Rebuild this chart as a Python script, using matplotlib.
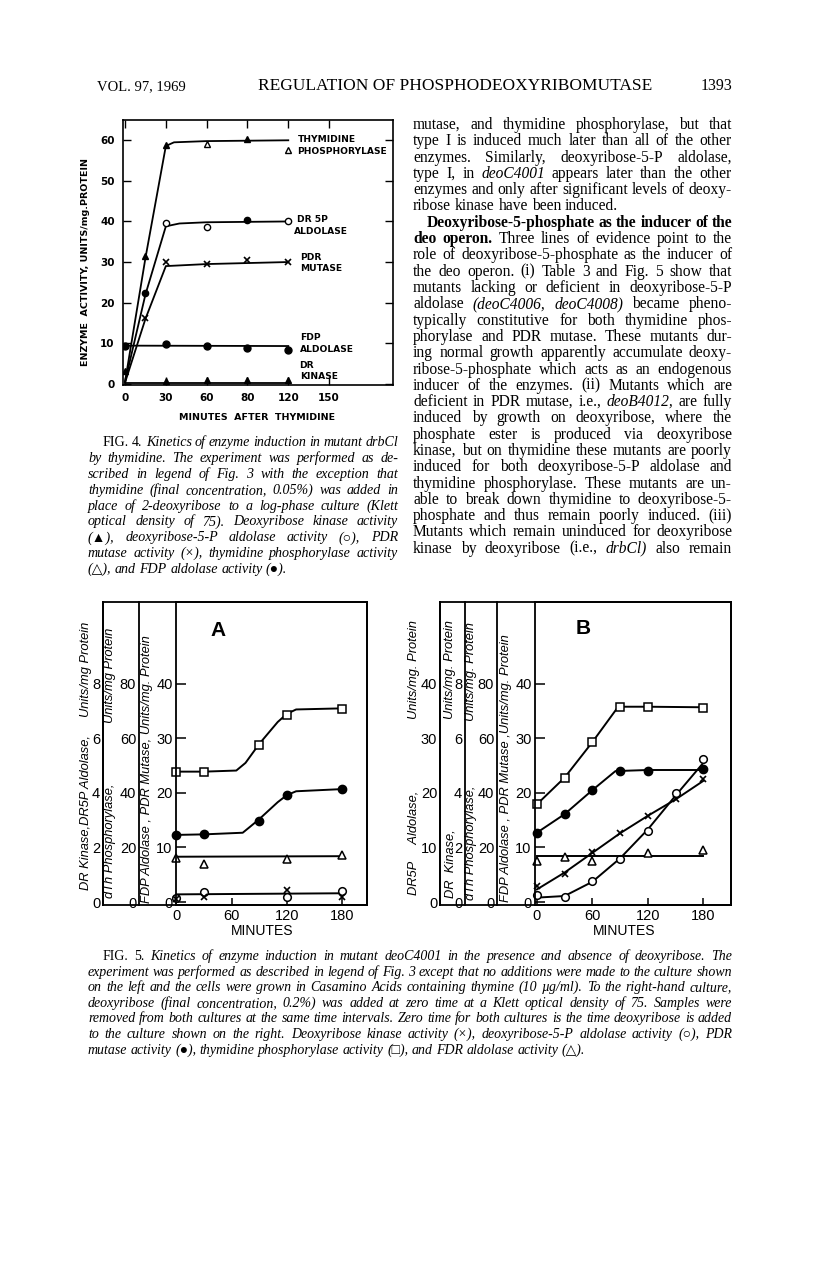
import matplotlib.pyplot as plt

W, H = 816, 1262

# ---------------- Fig. 4 data (minutes after thymidine, units/mg protein)
f4_ticks = [0, 30, 60, 90, 120, 150]
f4_ticklabels = ['0', '30', '60', '80', '120', '150']
f4_yticks = [0, 10, 20, 30, 40, 50, 60]

tp_line_x = [0, 15, 30, 36, 60, 120]
tp_line_y = [0.5, 31.0, 58.6, 59.5, 59.8, 60.0]
tp_fill_x = [15, 30, 90]
tp_fill_y = [31.5, 58.8, 60.2]
tp_open_x = [60, 120]
tp_open_y = [59.2, 57.7]

ald_line_x = [0, 15, 30, 40, 60, 120]
ald_line_y = [0.5, 22.0, 38.8, 39.5, 39.8, 40.0]
ald_open_x = [30, 60, 120]
ald_open_y = [39.5, 38.6, 40.1]
ald_fill_x = [15, 90]
ald_fill_y = [22.3, 40.3]

mut_line_x = [0, 15, 30, 60, 120]
mut_line_y = [0.3, 16.0, 29.0, 29.5, 30.0]
mut_x = [15, 30, 60, 90, 120]
mut_y = [16.2, 30.0, 29.6, 30.4, 30.0]

fdp_line_x = [0, 120]
fdp_line_y = [9.4, 9.3]
fdp_x = [0, 30, 60, 90, 120]
fdp_y = [9.3, 9.8, 9.3, 8.9, 8.4]

kin_line_x = [0, 120]
kin_line_y = [0.3, 0.3]
kin_x = [0, 30, 60, 90, 120]
kin_y = [3.2, 0.8, 0.9, 0.9, 1.0]

# ---------------- Fig. 5 data (plotted on the 0-40 FDP/PDR scale)
f5_xticks = [0, 60, 120, 180]
f5_yticks = [0, 10, 20, 30, 40]
dth_ticks = [0, 20, 40, 60, 80]
kin_ticks = [0, 2, 4, 6, 8]
dr5p_ticks = [0, 10, 20, 30, 40]

# panel A
a_sq_line_x = [0, 30, 65, 75, 90, 110, 120, 130, 180]
a_sq_line_y = [23.9, 23.9, 24.1, 25.5, 29.0, 33.0, 34.5, 35.3, 35.5]
a_sq_x = [0, 30, 90, 120, 180]
a_sq_y = [23.9, 23.9, 28.8, 34.2, 35.4]
a_dot_line_x = [0, 30, 72, 80, 90, 110, 120, 130, 180]
a_dot_line_y = [12.3, 12.4, 12.7, 13.8, 15.2, 18.3, 19.6, 20.3, 20.7]
a_dot_x = [0, 30, 90, 120, 180]
a_dot_y = [12.2, 12.4, 14.9, 19.6, 20.7]
a_tri_line_x = [0, 180]
a_tri_line_y = [8.3, 8.4]
a_tri_x = [0, 30, 120, 180]
a_tri_y = [8.1, 6.9, 7.9, 8.6]
a_low_line_x = [0, 180]
a_low_line_y = [1.4, 1.6]
a_circ_x = [0, 30, 120, 180]
a_circ_y = [0.8, 1.9, 0.9, 2.1]
a_cross_x = [0, 30, 120, 180]
a_cross_y = [0.5, 0.9, 2.2, 1.0]

# panel B
b_sq_line_x = [0, 30, 60, 88, 120, 180]
b_sq_line_y = [17.9, 22.8, 29.3, 35.8, 35.8, 35.7]
b_sq_x = [0, 30, 60, 90, 120, 180]
b_sq_y = [17.9, 22.8, 29.3, 35.8, 35.7, 35.5]
b_dot_line_x = [0, 30, 60, 85, 120, 180]
b_dot_line_y = [12.7, 16.1, 20.5, 24.0, 24.2, 24.2]
b_dot_x = [0, 30, 60, 90, 120, 180]
b_dot_y = [12.7, 16.1, 20.6, 24.0, 24.1, 24.3]
b_cross_line_x = [0, 30, 60, 90, 120, 150, 180]
b_cross_line_y = [2.3, 5.4, 9.0, 12.6, 15.8, 18.8, 22.2]
b_cross_x = [0, 30, 60, 90, 120, 150, 180]
b_cross_y = [3.0, 5.1, 9.1, 12.7, 15.8, 18.8, 22.6]
b_circ_line_x = [0, 30, 60, 90, 120, 150, 180]
b_circ_line_y = [0.8, 1.1, 3.7, 8.0, 13.3, 19.5, 25.5]
b_circ_x = [0, 30, 60, 90, 120, 150, 180]
b_circ_y = [1.2, 0.9, 3.8, 7.9, 13.0, 20.0, 26.3]
b_tri_line_x = [0, 180]
b_tri_line_y = [8.4, 8.4]
b_tri_x = [0, 30, 60, 120, 180]
b_tri_y = [7.5, 8.3, 7.6, 8.9, 9.6]

# ---------------- page text
header_left = 'VOL. 97, 1969'
header_mid = 'REGULATION OF PHOSPHODEOXYRIBOMUTASE'
header_right = '1393'

body_par1 = [
    'mutase, and thymidine phosphorylase, but that',
    'type I is induced much later than all of the other',
    'enzymes. Similarly, deoxyribose-5-P aldolase,',
    'type I, in _deoC4001 appears later than the other',
    'enzymes and only after significant levels of deoxy-',
    'ribose kinase have been induced.',
]
body_par2 = [
    '*Deoxyribose-5-phosphate *as *the *inducer *of *the',
    '*deo *operon. Three lines of evidence point to the',
    'role of deoxyribose-5-phosphate as the inducer of',
    'the deo operon. (i) Table 3 and Fig. 5 show that',
    'mutants lacking or deficient in deoxyribose-5-P',
    'aldolase _(deoC4006, _deoC4008) became pheno-',
    'typically constitutive for both thymidine phos-',
    'phorylase and PDR mutase. These mutants dur-',
    'ing normal growth apparently accumulate deoxy-',
    'ribose-5-phosphate which acts as an endogenous',
    'inducer of the enzymes. (ii) Mutants which are',
    'deficient in PDR mutase, i.e., _deoB4012, are fully',
    'induced by growth on deoxyribose, where the',
    'phosphate ester is produced via deoxyribose',
    'kinase, but on thymidine these mutants are poorly',
    'induced for both deoxyribose-5-P aldolase and',
    'thymidine phosphorylase. These mutants are un-',
    'able to break down thymidine to deoxyribose-5-',
    'phosphate and thus remain poorly induced. (iii)',
    'Mutants which remain uninduced for deoxyribose',
    'kinase by deoxyribose (i.e., _drbCl) also remain',
]
cap4 = [
    '~FIG. ~4. Kinetics of enzyme induction in mutant drbCl',
    'by thymidine. The experiment was performed as de-',
    'scribed in legend of Fig. 3 with the exception that',
    'thymidine (final concentration, 0.05%) was added in',
    'place of 2-deoxyribose to a log-phase culture (Klett',
    'optical density of 75). Deoxyribose kinase activity',
    '(▲), deoxyribose-5-P aldolase activity (○), PDR',
    'mutase activity (×), thymidine phosphorylase activity',
    '(△), and FDP aldolase activity (●).',
]
cap5 = [
    '~FIG. ~5. Kinetics of enzyme induction in mutant deoC4001 in the presence and absence of deoxyribose. The',
    'experiment was performed as described in legend of Fig. 3 except that no additions were made to the culture shown',
    'on the left and the cells were grown in Casamino Acids containing thymine (10 µg/ml). To the right-hand culture,',
    'deoxyribose (final concentration, 0.2%) was added at zero time at a Klett optical density of 75. Samples were',
    'removed from both cultures at the same time intervals. Zero time for both cultures is the time deoxyribose is added',
    'to the culture shown on the right. Deoxyribose kinase activity (×), deoxyribose-5-P aldolase activity (○), PDR',
    'mutase activity (●), thymidine phosphorylase activity (□), and FDR aldolase activity (△).',
]

fig = plt.figure(figsize=(W / 100, H / 100), dpi=100)
fig.patch.set_facecolor('white')
renderer = fig.canvas.get_renderer()
SERIF = ['Liberation Serif', 'DejaVu Sans']


def P(x, y):
    return x / W, 1 - y / H


def set_line(line, x0, x1, y, size, italic=False, justify=True):
    parts = []
    for tok in line.split():
        weight, ital = 'normal', italic
        while len(tok) > 1 and tok[0] in '*_~':
            if tok[0] == '*':
                weight = 'bold'
            elif tok[0] == '_':
                ital = True
            else:
                ital = False
            tok = tok[1:]
        t = fig.text(0, 0, tok, fontsize=size, family=SERIF, fontweight=weight,
                     fontstyle='italic' if ital else 'normal', va='baseline', ha='left')
        parts.append(t)
    widths = [t.get_window_extent(renderer).width for t in parts]
    gap = size * 100 / 72 * 0.25
    if justify and len(parts) > 1:
        gap = (x1 - x0 - sum(widths)) / (len(parts) - 1)
    x = x0
    for t, w in zip(parts, widths):
        t.set_position(P(x, y))
        x += w + gap


def paragraph(lines, x0, x1, y0, step, size, italic=False, indent=0, last_justified=False):
    for i, line in enumerate(lines):
        last = (i == len(lines) - 1) and not last_justified
        set_line(line, x0 + (indent if i == 0 else 0), x1, y0 + i * step, size, italic, not last)


# header
fig.text(*P(97, 90), header_left, fontsize=10.5, family=SERIF, va='baseline')
fig.text(*P(455, 90), header_mid, fontsize=12.5, family=SERIF, va='baseline', ha='center')
fig.text(*P(732, 90), header_right, fontsize=11.5, family=SERIF, va='baseline', ha='right')

# right column text
paragraph(body_par1, 413, 732, 129, 16.3, 11.2)
paragraph(body_par2, 413, 732, 129 + 6 * 16.3, 16.3, 11.2, indent=14, last_justified=True)

# captions
paragraph(cap4, 88, 398, 446, 15.9, 10.1, italic=True, indent=15)
paragraph(cap5, 88, 732, 960, 15.6, 10.0, italic=True, indent=15)

# ---------------- Fig. 4
ax4 = fig.add_axes([123 / W, 1 - 385 / H, 270 / W, 265 / H])
lw = 1.3
ax4.plot(tp_line_x, tp_line_y, color='black', lw=lw)
ax4.plot(ald_line_x, ald_line_y, color='black', lw=lw)
ax4.plot(mut_line_x, mut_line_y, color='black', lw=lw)
ax4.plot(fdp_line_x, fdp_line_y, color='black', lw=lw)
ax4.plot(kin_line_x, kin_line_y, color='black', lw=lw)
ms = 4.5
ax4.plot(tp_fill_x, tp_fill_y, '^', color='black', ms=ms)
ax4.plot(tp_open_x, tp_open_y, '^', mfc='white', mec='black', mew=1, ms=ms)
ax4.plot(ald_open_x, ald_open_y, 'o', mfc='white', mec='black', mew=1, ms=ms)
ax4.plot(ald_fill_x, ald_fill_y, 'o', color='black', ms=ms)
ax4.plot(mut_x, mut_y, 'x', color='black', mew=1.2, ms=ms)
ax4.plot(fdp_x, fdp_y, 'o', color='black', ms=ms + 0.5)
ax4.plot(kin_x, kin_y, '^', color='black', ms=ms)
ax4.set_xlim(-1.5, 197)
ax4.set_ylim(-0.3, 65)
ax4.set_xticks(f4_ticks)
ax4.set_xticklabels(f4_ticklabels)
ax4.set_yticks(f4_yticks)
ax4.tick_params(direction='in', top=True, right=True, length=6, width=1,
                labelsize=7.5, pad=6)
for lab in ax4.get_xticklabels() + ax4.get_yticklabels():
    lab.set_fontweight('bold')
for s in ax4.spines.values():
    s.set_linewidth(1.2)

f4_labels = [
    (298, 140, 'THYMIDINE'), (297, 152, 'PHOSPHORYLASE'),
    (297, 220, 'DR 5P'), (294, 232, 'ALDOLASE'),
    (300, 257, 'PDR'), (300, 269, 'MUTASE'),
    (300, 337, 'FDP'), (300, 349, 'ALDOLASE'),
    (299, 365, 'DR'), (300, 377, 'KINASE'),
]
for x, y, s in f4_labels:
    fig.text(*P(x, y), s, fontsize=6.6, fontweight='bold', family='DejaVu Sans',
             va='center', ha='left')
fig.text(*P(85, 262), 'ENZYME  ACTIVITY, UNITS/mg.PROTEIN', rotation=90, fontsize=6.8,
         fontweight='bold', family='DejaVu Sans', ha='center', va='center')
fig.text(*P(257, 418), 'MINUTES  AFTER  THYMIDINE', fontsize=6.8, fontweight='bold',
         family='DejaVu Sans', ha='center', va='center')


# ---------------- Fig. 5
def panel(box_l, main_l, right, extra_scales):
    top, bottom = 602, 905
    box = fig.add_axes([box_l / W, 1 - bottom / H, (right - box_l) / W, (bottom - top) / H])
    box.set_xticks([])
    box.set_yticks([])
    for s in box.spines.values():
        s.set_linewidth(1.3)
    ax = fig.add_axes([main_l / W, 1 - bottom / H, (right - main_l) / W, (bottom - top) / H])
    ax.set_facecolor('none')
    for s in ax.spines.values():
        s.set_linewidth(1.3)
    ax.set_ylim(-0.55, 55)
    ax.set_yticks(f5_yticks)
    ax.set_xticks(f5_xticks)
    ax.tick_params(direction='in', length=7, width=1.1, labelsize=10.5, pad=2.5)
    ax.tick_params(axis='x', length=5, pad=3)
    for lab in ax.get_xticklabels() + ax.get_yticklabels():
        lab.set_family('Liberation Sans')
    width = right - main_l
    for xpix, fwd, inv, ticks in extra_scales:
        sec = ax.secondary_yaxis((xpix - main_l) / width, functions=(fwd, inv))
        sec.set_yticks(ticks)
        sec.tick_params(length=0, pad=2, labelsize=10.5)
        sec.spines['left'].set_linewidth(1.3)
        for lab in sec.get_yticklabels():
            lab.set_family('Liberation Sans')
    return ax


def vlabel(x, y, text, anchor):
    fig.text(*P(x, y), text, rotation=90, rotation_mode='anchor',
             ha='left' if anchor == 'bottom' else 'right', va='center',
             fontsize=9.3, fontstyle='italic', family='Liberation Sans')


def draw(ax, lx, ly, px, py, marker, filled):
    ax.plot(lx, ly, color='black', lw=1.4, clip_on=False)
    if marker == 'x':
        ax.plot(px, py, 'x', color='black', ms=5, mew=1.2, clip_on=False)
    elif filled:
        ax.plot(px, py, marker, color='black', ms=6, clip_on=False)
    else:
        ax.plot(px, py, marker, mfc='white', mec='black', ms=5.5, mew=1.1, clip_on=False)


axA = panel(103, 176, 367, [
    (139, lambda v: v * 2, lambda v: v / 2, dth_ticks),
    (103, lambda v: v / 5, lambda v: v * 5, kin_ticks),
])
axA.set_xlim(-0.5, 207)
draw(axA, a_sq_line_x, a_sq_line_y, a_sq_x, a_sq_y, 's', False)
draw(axA, a_dot_line_x, a_dot_line_y, a_dot_x, a_dot_y, 'o', True)
draw(axA, a_tri_line_x, a_tri_line_y, a_tri_x, a_tri_y, '^', False)
draw(axA, a_low_line_x, a_low_line_y, a_circ_x, a_circ_y, 'o', False)
axA.plot(a_cross_x, a_cross_y, 'x', color='black', ms=5, mew=1.2, clip_on=False)

axB = panel(440, 535, 731, [
    (497, lambda v: v * 2, lambda v: v / 2, dth_ticks),
    (465, lambda v: v / 5, lambda v: v * 5, kin_ticks),
    (440, lambda v: v, lambda v: v, dr5p_ticks),
])
axB.set_xlim(-2, 210)
draw(axB, b_sq_line_x, b_sq_line_y, b_sq_x, b_sq_y, 's', False)
draw(axB, b_dot_line_x, b_dot_line_y, b_dot_x, b_dot_y, 'o', True)
draw(axB, b_cross_line_x, b_cross_line_y, b_cross_x, b_cross_y, 'x', False)
draw(axB, b_circ_line_x, b_circ_line_y, b_circ_x, b_circ_y, 'o', False)
draw(axB, b_tri_line_x, b_tri_line_y, b_tri_x, b_tri_y, '^', False)

# axis titles of the stacked scales
vlabel(86, 890, 'DR Kinase,DR5P Aldolase,', 'bottom')
vlabel(86, 622, 'Units/mg Protein', 'top')
vlabel(110, 898, 'dTh Phosphorylase,', 'bottom')
vlabel(110, 628, 'Units/mg Protein', 'top')
vlabel(147, 903, 'FDP Aldolase , PDR Mutase, Units/mg. Protein', 'bottom')
vlabel(414, 895, 'DR5P     Aldolase,', 'bottom')
vlabel(414, 620, 'Units/mg. Protein', 'top')
vlabel(450, 898, 'DR  Kinase,', 'bottom')
vlabel(450, 620, 'Units/mg. Protein', 'top')
vlabel(471, 900, 'dTh Phosphorylase,', 'bottom')
vlabel(471, 622, 'Units/mg. Protein', 'top')
vlabel(506, 902, 'FDP Aldolase , PDR Mutase ,Units/mg. Protein', 'bottom')

fig.text(*P(218, 630), 'A', fontsize=15, fontweight='bold', family='Liberation Sans',
         ha='center', va='center')
fig.text(*P(583, 629), 'B', fontsize=15, fontweight='bold', family='Liberation Sans',
         ha='center', va='center')
fig.text(*P(262, 931), 'MINUTES', fontsize=10, family='Liberation Sans', ha='center', va='center')
fig.text(*P(624, 931), 'MINUTES', fontsize=10, family='Liberation Sans', ha='center', va='center')

fig.savefig('out.png', dpi=100)
